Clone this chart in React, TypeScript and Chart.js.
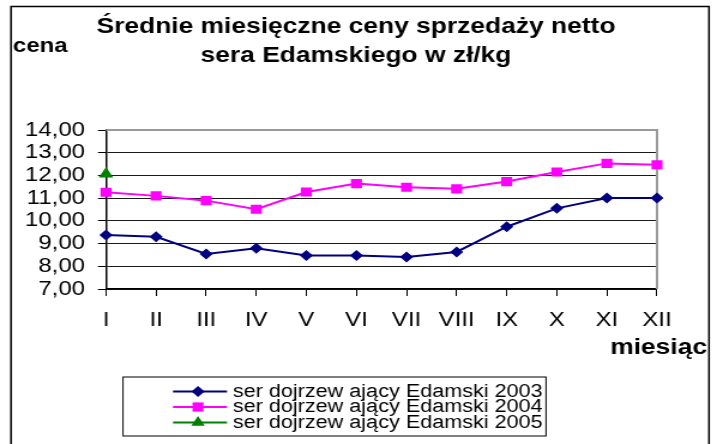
import React, { useEffect, useRef } from 'react';
import { Chart, registerables } from 'chart.js';

Chart.register(...registerables);

// ---- data ----
const months = ['I', 'II', 'III', 'IV', 'V', 'VI', 'VII', 'VIII', 'IX', 'X', 'XI', 'XII'];
const cheese2003 = [9.38, 9.3, 8.54, 8.79, 8.47, 8.47, 8.41, 8.63, 9.74, 10.55, 11.01, 11.01];
const cheese2004 = [11.26, 11.1, 10.89, 10.51, 11.27, 11.64, 11.48, 11.41, 11.73, 12.15, 12.53, 12.47];
const cheese2005 = [12.06, null, null, null, null, null, null, null, null, null, null, null];
const seriesLabels = [
  'ser dojrzew ający Edamski 2003',
  'ser dojrzew ający Edamski 2004',
  'ser dojrzew ający Edamski 2005',
];
const seriesColors = ['#000080', '#FF00FF', '#008000'];
const seriesMarkers = ['rectRot', 'rect', 'triangle'];
const titleLines = ['Średnie miesięczne ceny sprzedaży netto', 'sera Edamskiego w zł/kg'];
const yAxisTitle = 'cena';
const xAxisTitle = 'miesiąc';
const yMin = 7;
const yMax = 14;
const yStep = 1;

// ---- layout (the picture is horizontally stretched) ----
const OUT_W = 717;
const OUT_H = 444;
const IN_W = 598;
const S = OUT_W / IN_W;
const X = (v: number) => v / S;
const FONT = "'Liberation Sans', Arial, Helvetica, sans-serif";

function drawMarker(ctx: CanvasRenderingContext2D, style: string, x: number, y: number, color: string) {
  ctx.save();
  ctx.fillStyle = color;
  ctx.beginPath();
  if (style === 'rectRot') {
    const r = 5.5;
    ctx.moveTo(x, y - r);
    ctx.lineTo(x + r, y);
    ctx.lineTo(x, y + r);
    ctx.lineTo(x - r, y);
  } else if (style === 'rect') {
    const h = 4.6;
    ctx.rect(x - h, y - h, 2 * h, 2 * h);
  } else {
    const r = 6.5;
    ctx.moveTo(x, y - r);
    ctx.lineTo(x + r * 0.866, y + r * 0.5);
    ctx.lineTo(x - r * 0.866, y + r * 0.5);
  }
  ctx.closePath();
  ctx.fill();
  ctx.restore();
}

const decorPlugin = {
  id: 'decor',
  beforeDatasetsDraw(chart: any) {
    const { ctx, chartArea: ca } = chart;
    ctx.save();
    ctx.strokeStyle = '#9a9a9a';
    ctx.lineWidth = 2;
    ctx.beginPath();
    ctx.moveTo(ca.left, ca.top);
    ctx.lineTo(ca.right, ca.top);
    ctx.lineTo(ca.right, ca.bottom);
    ctx.stroke();
    ctx.restore();
  },
  afterDraw(chart: any) {
    const { ctx } = chart;
    ctx.save();
    // outer frame
    ctx.strokeStyle = '#000';
    ctx.lineWidth = 1.5;
    ctx.strokeRect(X(11), 6.5, X(709) - X(11), OUT_H + 10);

    // title
    ctx.fillStyle = '#000';
    ctx.font = `bold 22px ${FONT}`;
    ctx.textAlign = 'center';
    ctx.textBaseline = 'alphabetic';
    ctx.fillText(titleLines[0], X(356), 33);
    ctx.fillText(titleLines[1], X(356), 62);

    // axis titles
    ctx.font = `bold 20px ${FONT}`;
    ctx.textAlign = 'left';
    ctx.fillText(yAxisTitle, X(13), 52);
    ctx.font = `bold 22px ${FONT}`;
    ctx.textAlign = 'right';
    ctx.fillText(xAxisTitle, X(707), 354);

    // legend
    const bx = X(123);
    const bw = X(546) - X(123);
    const by = 377;
    const bh = 59;
    ctx.fillStyle = '#fff';
    ctx.fillRect(bx, by, bw, bh);
    ctx.strokeStyle = '#000';
    ctx.lineWidth = 1;
    ctx.strokeRect(bx, by, bw, bh);
    const rows = [391.5, 407, 422.5];
    chart.data.datasets.forEach((ds: any, i: number) => {
      const y = rows[i];
      ctx.strokeStyle = seriesColors[i];
      ctx.lineWidth = 2;
      ctx.beginPath();
      ctx.moveTo(X(173), y);
      ctx.lineTo(X(227), y);
      ctx.stroke();
      drawMarker(ctx, seriesMarkers[i], X(198), y, seriesColors[i]);
      ctx.fillStyle = '#000';
      ctx.font = `18px ${FONT}`;
      ctx.textAlign = 'left';
      ctx.textBaseline = 'middle';
      ctx.fillText(ds.label, X(233), y + 0.5);
    });
    ctx.restore();
  },
};

export default function App() {
  const ref = useRef<HTMLCanvasElement | null>(null);

  useEffect(() => {
    document.body.style.margin = '0';
    const canvas = ref.current;
    if (!canvas) return;
    const chart = new Chart(canvas, {
      type: 'line',
      data: {
        labels: months,
        datasets: [
          {
            label: seriesLabels[0],
            data: cheese2003,
            borderColor: seriesColors[0],
            backgroundColor: seriesColors[0],
            pointStyle: 'rectRot',
            pointRadius: 5.5,
            pointBorderWidth: 0,
            borderWidth: 2,
          },
          {
            label: seriesLabels[1],
            data: cheese2004,
            borderColor: seriesColors[1],
            backgroundColor: seriesColors[1],
            pointStyle: 'rect',
            pointRadius: 6.5,
            pointBorderWidth: 0,
            borderWidth: 2,
          },
          {
            label: seriesLabels[2],
            data: cheese2005 as any,
            borderColor: seriesColors[2],
            backgroundColor: seriesColors[2],
            pointStyle: 'triangle',
            pointRadius: 7,
            pointBorderWidth: 0,
            borderWidth: 2,
          },
        ],
      },
      options: {
        responsive: false,
        animation: false,
        layout: { padding: { left: 0, top: 130, right: IN_W - X(657), bottom: OUT_H - 289 - 40 } },
        plugins: {
          legend: { display: false },
          title: { display: false },
          tooltip: { enabled: false },
        },
        scales: {
          x: {
            offset: false,
            grid: { drawOnChartArea: false, drawTicks: true, tickLength: 7, color: '#000' },
            border: { color: '#000', width: 1.5 },
            ticks: {
              font: { family: FONT, size: 20 },
              color: '#000',
              padding: 12,
              maxRotation: 0,
              autoSkip: false,
            },
            afterFit(s: any) {
              s.height = 40;
            },
          },
          y: {
            min: yMin,
            max: yMax,
            ticks: {
              stepSize: yStep,
              autoSkip: false,
              font: { family: FONT, size: 20 },
              color: '#000',
              padding: X(106) - X(8) - X(85),
              callback: (v: any) => Number(v).toFixed(2).replace('.', ','),
            },
            grid: {
              color: (c: any) => (c.tick && c.tick.value === yMax ? 'rgba(0,0,0,0)' : '#1a1a1a'),
              tickColor: '#000',
              tickLength: X(8),
              lineWidth: 1,
            },
            border: { color: '#000', width: 1.5 },
            afterFit(s: any) {
              s.width = X(106);
            },
          },
        },
      },
      plugins: [decorPlugin],
    } as any);
    return () => chart.destroy();
  }, []);

  return (
    <div style={{ width: OUT_W, height: OUT_H, background: '#fff' }}>
      <canvas
        ref={ref}
        width={IN_W}
        height={OUT_H}
        style={{ width: OUT_W + 'px', height: OUT_H + 'px', display: 'block' }}
      />
    </div>
  );
}
